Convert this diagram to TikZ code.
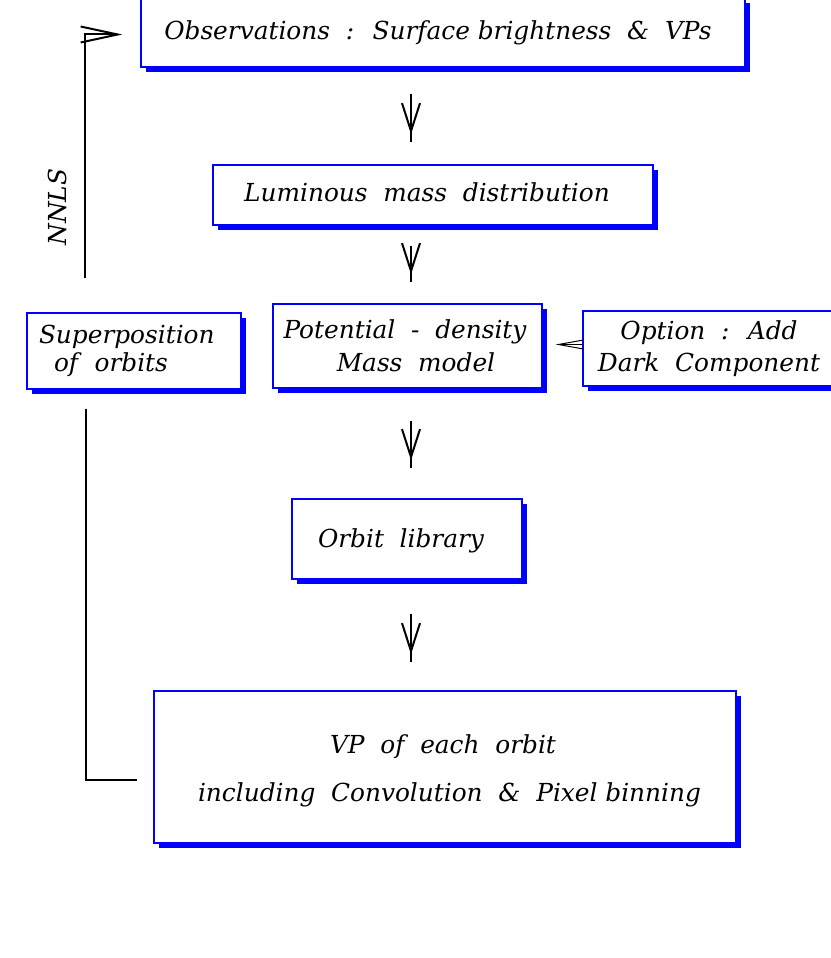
\documentclass[tikz,border=0pt]{standalone}
\usepackage{fontspec}
\setmainfont{DejaVu Serif}
\usetikzlibrary{arrows.meta,shadows,decorations.markings}
\newcommand{\sh}[3]{\hspace*{#1}\raisebox{#2}[\height][\depth]{#3}}
\begin{document}
\begin{tikzpicture}[x=1pt,y=-1pt,
  box/.style={draw=blue, line width=1.2pt, fill=white, inner sep=0pt, align=center,
    font=\fontsize{24.8}{33}\selectfont\itshape,
    drop shadow={shadow xshift=5pt, shadow yshift=-5pt, fill=blue, opacity=1}},
  flow/.style={line width=2pt, postaction={decorate},
    decoration={markings, mark=at position -8pt with {\arrow[line width=2pt]{Straight Barb[length=28pt,width=18pt]}}}},
  fb/.style={line width=2pt, -{Straight Barb[length=37pt,width=16pt]}},
  small/.style={line width=1pt, -{Straight Barb[length=25pt,width=9pt]}},
  lbl/.style={font=\fontsize{24.8}{33}\selectfont\itshape}]
\useasboundingbox (0,0) rectangle (830,958);
\coordinate (ax) at (411,0);
\node[box, minimum width=604pt, minimum height=69pt] (obs) at (443,32.5) {\sh{-10pt}{0pt}{Observations~ :~ Surface brightness~ \&~ VPs}};
\node[box, minimum width=440pt, minimum height=60pt] (lum) at (433,195) {\sh{-12pt}{3pt}{Luminous~ mass~ distribution}};
\node[box, minimum width=269pt, minimum height=84pt] (pot) at (407.5,346) {\sh{-5pt}{0pt}{Potential~ -~ density}\\ \sh{17pt}{0pt}{Mass~ model}};
\node[box, minimum width=214pt, minimum height=76pt, text width=190pt, align=left, font=\fontsize{24.8}{28}\selectfont\itshape] (sup) at (134,351) {Superposition\\ \hspace*{15pt}of~ orbits};
\node[box, minimum width=252pt, minimum height=75pt, font=\fontsize{24.8}{32}\selectfont\itshape] (opt) at (709,348.5) {Option~ :~ Add\\ Dark~ Component};
\node[box, minimum width=230pt, minimum height=80pt] (orb) at (407,539) {\sh{-12pt}{-2pt}{Orbit~ library}};
\node[box, minimum width=582pt, minimum height=152pt, font=\fontsize{24.8}{48}\selectfont\itshape] (vp) at (445,767) {\sh{-4pt}{-4pt}{VP~ of~ each~ orbit}\\ \sh{9pt}{-4pt}{including~ Convolution~ \&~ Pixel binning}};
\draw[flow] ([yshift=-26pt]obs.south -| ax) -- ([yshift=22pt]lum.north -| ax);
\draw[flow] ([yshift=-20pt]lum.south -| ax) -- ([yshift=21pt]pot.north -| ax);
\draw[flow] ([yshift=-32pt]pot.south -| ax) -- ([yshift=30pt]orb.north -| ax);
\draw[flow] ([yshift=-34pt]orb.south -| ax) -- ([yshift=28pt]vp.north -| ax);
\draw[small, shorten >=13pt] ([yshift=4pt]opt.west) -- ([yshift=4pt]opt.west -| pot.east);
\draw[fb, shorten >=18pt] ([xshift=-49pt,yshift=34pt]sup.north) |- ([yshift=-2pt]obs.west);
\draw[line width=2pt] ([xshift=-48pt,yshift=-19pt]sup.south) |- ([xshift=-16pt,yshift=-13pt]vp.west);
\node[lbl, rotate=90] (nnls) at (57,207) {NNLS};
\end{tikzpicture}
\end{document}
